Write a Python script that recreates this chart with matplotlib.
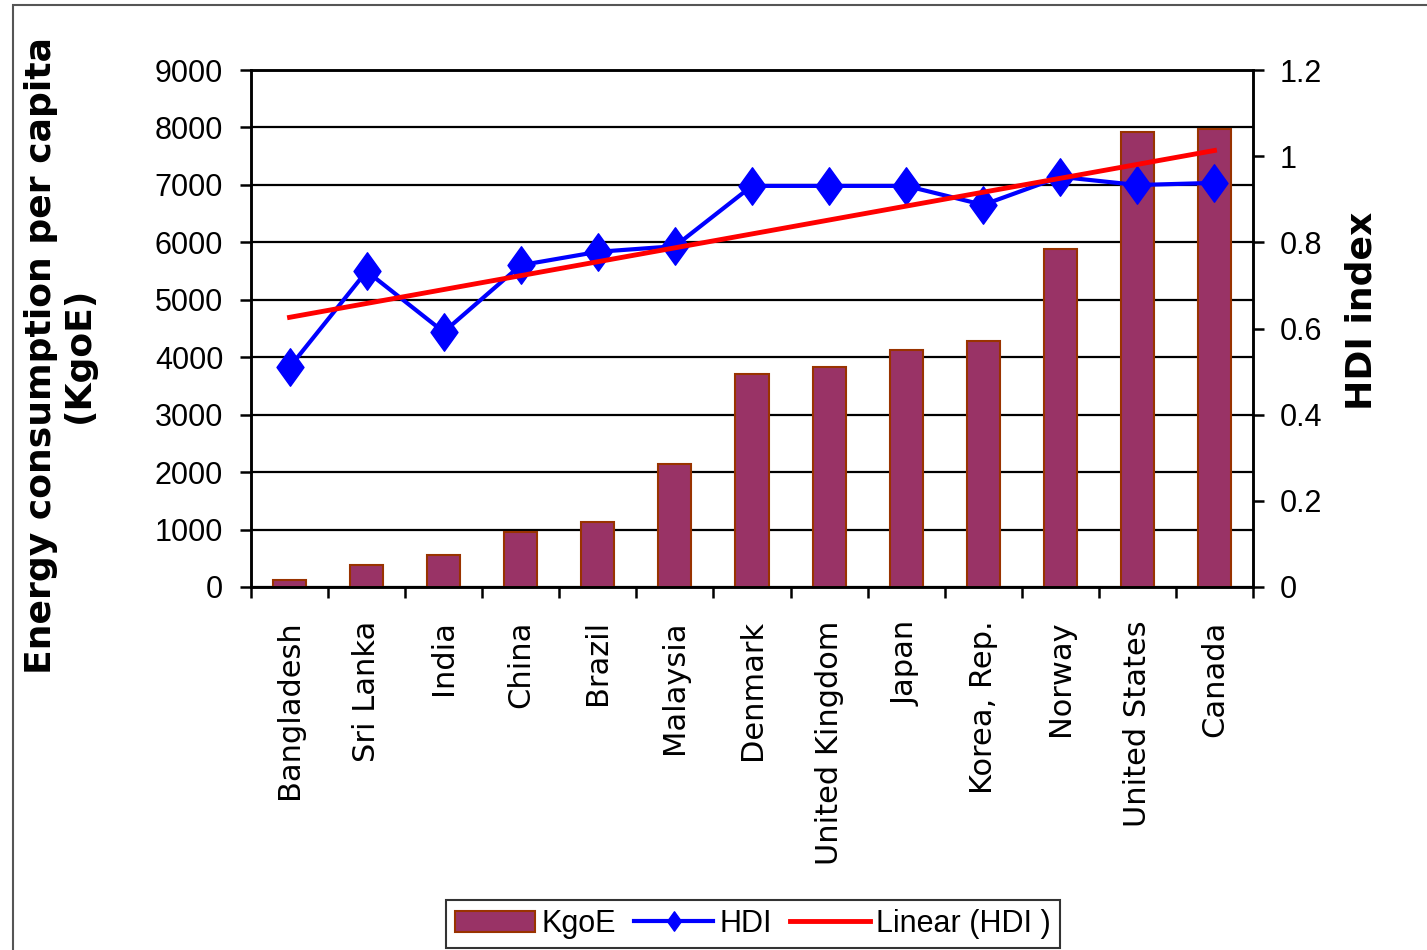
import numpy as np
import matplotlib
matplotlib.use("Agg")
import matplotlib.pyplot as plt
from matplotlib.path import Path
from matplotlib.patches import Rectangle, Patch
from matplotlib.lines import Line2D

countries = ["Bangladesh", "Sri Lanka", "India", "China", "Brazil", "Malaysia",
             "Denmark", "United Kingdom", "Japan", "Korea, Rep.", "Norway",
             "United States", "Canada"]
kgoe = [120, 380, 560, 960, 1130, 2140, 3710, 3830, 4125, 4280, 5880, 7920, 7970]
hdi = [0.51, 0.733, 0.592, 0.747, 0.778, 0.791, 0.931, 0.931, 0.931, 0.887, 0.952, 0.933, 0.938]
left_ticks = [0, 1000, 2000, 3000, 4000, 5000, 6000, 7000, 8000, 9000]
right_ticks = [0, 0.2, 0.4, 0.6, 0.8, 1.0, 1.2]
right_labels = ["0", "0.2", "0.4", "0.6", "0.8", "1", "1.2"]

W, H = 1427, 950
fig = plt.figure(figsize=(W / 100, H / 100), dpi=100)
fig.patch.set_facecolor("white")

# outer frame
fig.patches.append(Rectangle((13 / W, -0.1), 1.2, 1.1 - 5 / H, transform=fig.transFigure,
                             fill=False, edgecolor="#555555", lw=1.5))

ax = fig.add_axes([251 / W, 1 - 587 / H, (1253 - 251) / W, (587 - 70) / H])
x = np.arange(len(countries))
ax.bar(x, kgoe, width=0.43, color="#993366", edgecolor="#993300", linewidth=1.5, zorder=2)
ax.set_xlim(-0.5, len(countries) - 0.5)
ax.set_ylim(0, 9000)
ax.set_yticks(left_ticks)
ax.set_yticklabels([str(v) for v in left_ticks], fontfamily="Liberation Sans", fontsize=22)
ax.yaxis.grid(True, color="black", lw=1.6, zorder=0)
ax.set_axisbelow(True)
ax.tick_params(axis="y", length=8, width=1.8, pad=12, direction="out")
ax.set_xticks(x)
ax.set_xticklabels(countries, rotation=90, fontfamily="DejaVu Sans", fontsize=22)
ax.tick_params(axis="x", which="major", length=0, pad=24)
ax.set_xticks(np.arange(-0.5, len(countries), 1.0), minor=True)
ax.tick_params(axis="x", which="minor", length=8, width=1.8, direction="out")
for s in ax.spines.values():
    s.set_linewidth(1.8)
    s.set_color("black")

ax2 = ax.twinx()
ax2.set_ylim(0, 1.2)
ax2.set_yticks(right_ticks)
ax2.set_yticklabels(right_labels, fontfamily="Liberation Sans", fontsize=22)
ax2.tick_params(axis="y", length=8, width=1.8, pad=11, direction="out")
for s in ax2.spines.values():
    s.set_linewidth(1.8)

diamond = Path([(0, 1), (0.72, 0), (0, -1), (-0.72, 0), (0, 1)],
               [Path.MOVETO, Path.LINETO, Path.LINETO, Path.LINETO, Path.CLOSEPOLY])
ax2.plot(x, hdi, color="#0000FF", lw=3, marker=diamond, markersize=27,
         markerfacecolor="#0000FF", markeredgecolor="#0000FF", zorder=3)
coef = np.polyfit(x, hdi, 1)
ax2.plot(x, np.polyval(coef, x), color="#FF0000", lw=3.5, zorder=4)

fig.text(60 / W, 1 - 355 / H, "Energy consumption per capita\n(KgoE)", rotation=90,
         ha="center", va="center", multialignment="center",
         fontfamily="DejaVu Sans", fontweight="bold", fontsize=26, linespacing=1.15)
fig.text(1362 / W, 1 - 311 / H, "HDI index", rotation=90, ha="center", va="center",
         fontfamily="DejaVu Sans", fontweight="bold", fontsize=26)

handles = [Patch(facecolor="#993366", edgecolor="#993300", lw=1.5),
           Line2D([], [], color="#0000FF", lw=3, marker=diamond, markersize=14),
           Line2D([], [], color="#FF0000", lw=3.5)]
leg = fig.legend(handles, ["KgoE", "HDI", "Linear (HDI )"], ncol=3,
                 loc="upper center", bbox_to_anchor=(753 / W, 1 - 900 / H),
                 prop={"family": "Liberation Sans", "size": 22},
                 frameon=True, fancybox=False, handlelength=2.6, handletextpad=0.2,
                 columnspacing=0.6, borderpad=0.3, borderaxespad=0)
leg.get_frame().set_edgecolor("black")
leg.get_frame().set_linewidth(1.5)

fig.savefig("out.png", dpi=100)
